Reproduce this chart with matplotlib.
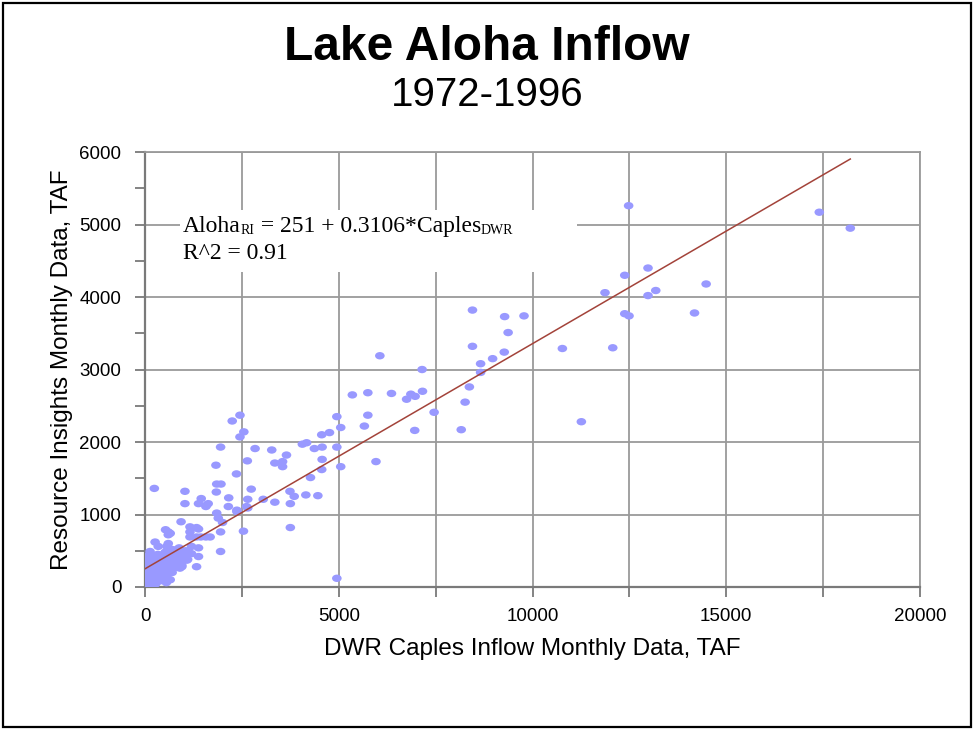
import numpy as np
import matplotlib.pyplot as plt
from matplotlib.path import Path
from matplotlib.patches import Rectangle
from matplotlib.ticker import MultipleLocator

plt.rcParams['font.family'] = 'Liberation Sans'

# monthly inflow, TAF: DWR Caples (x) vs Resource Insights Lake Aloha (y)
caples = [
    12480, 17400, 18200, 12980, 12380, 11870, 13180, 12980, 14480, 12380, 12490, 14180, 12070,
    8450, 9280, 9780, 9370, 8450, 9270, 8970, 8660, 8660, 8370, 8260, 8160, 10770, 11260,
    6060, 7150, 5350, 5750, 6360, 6750, 6860, 6970, 7160, 7460, 6960, 5750, 4950, 5660, 5050,
    4760, 4560, 4060, 4170, 4370, 4570, 4950, 3270, 3650, 3350, 3550, 3550, 4570, 4560, 5050,
    5960, 4270, 3050, 3350, 3740, 3850, 3750, 4150, 4460, 3750, 4950,
    2450, 2250, 2550, 2450, 1950, 2840, 2640, 1830, 2360, 1850, 1960, 240, 1030, 1840, 2740,
    2160, 2650, 1450, 1030, 1380, 1630, 1570, 1850, 2150, 2370, 2620, 930, 1330, 1890, 2000,
    1950, 2540, 1950, 600, 600, 1160, 1160, 1380, 1330, 1570, 1380, 1380, 1330, 1080, 950,
    1200, 950, 770, 600, 340, 260, 130, 530, 650, 1160, 1440, 1680, 950, 560, 1590, 2370, 2650,
    0, 10, 20, 5, 30, 15, 40, 10, 25, 50, 60, 80, 70, 90, 100, 80, 110, 95, 120, 130, 140,
    150, 160, 145, 170, 180, 165, 190, 200, 210, 230, 220, 250, 240, 260, 280, 270, 290, 300,
    320, 310, 340, 350, 330, 360, 380, 400, 390, 420, 430, 410, 450, 470, 490, 510, 500, 530,
    520, 560, 580, 600, 620, 640, 660, 680, 700, 720, 740, 760, 780, 800, 820, 850, 880, 900,
    920, 1000, 1050, 1100, 1200, 550, 650,
]
aloha = [
    5260, 5170, 4950, 4400, 4300, 4060, 4090, 4020, 4180, 3770, 3740, 3780, 3300,
    3820, 3730, 3740, 3510, 3320, 3240, 3150, 3080, 2960, 2760, 2550, 2170, 3290, 2280,
    3190, 3000, 2650, 2680, 2670, 2590, 2660, 2630, 2700, 2410, 2160, 2370, 2350, 2220, 2200,
    2130, 2100, 1970, 1990, 1910, 1930, 1930, 1890, 1820, 1710, 1730, 1660, 1760, 1620, 1660,
    1730, 1510, 1210, 1170, 1320, 1250, 1150, 1270, 1260, 820, 120,
    2370, 2290, 2140, 2070, 1930, 1910, 1740, 1680, 1560, 1420, 1420, 1360, 1320, 1310, 1350,
    1230, 1210, 1220, 1150, 1150, 1150, 1110, 1020, 1110, 1040, 1110, 900, 820, 950, 890,
    760, 770, 490, 760, 720, 760, 690, 800, 690, 690, 540, 420, 280, 370, 300,
    560, 460, 510, 600, 560, 620, 490, 790, 740, 830, 690, 690, 280, 560, 1130, 1060, 1090,
    20, 60, 110, 150, 190, 240, 280, 320, 370, 420, 30, 90, 140, 200, 250, 300, 350, 400, 450,
    10, 70, 130, 180, 230, 280, 330, 380, 430, 50, 100, 160, 210, 260, 310, 360, 410, 40, 120,
    190, 240, 290, 330, 390, 450, 80, 150, 210, 270, 320, 380, 440, 110, 180, 240, 300, 360,
    420, 480, 150, 230, 280, 340, 400, 460, 520, 200, 300, 370, 430, 270, 340, 400, 470, 540,
    260, 350, 420, 500, 380, 460, 60, 100,
]

intercept = 251
slope = 0.3106
r_squared = 0.91

fig = plt.figure(figsize=(9.74, 7.31), dpi=100)
ax = fig.add_axes([0.1489, 0.197, 0.7957, 0.595])

grid_col = '#9a9a9a'
axis_col = '#7a7a7a'

# oval markers, a bit wider than tall
circle = Path.unit_circle()
oval = Path(circle.vertices * [1.3, 1.0], circle.codes)
ax.scatter(caples, aloha, marker=oval, s=48, c='#9999ff', edgecolors='none', zorder=3)

# linear trendline
fit_x = np.array([0, max(caples)])
fit_y = intercept + slope * fit_x
ax.plot(fit_x, fit_y, color='#a3433a', lw=1.1, zorder=4)

ax.set_xlim(0, 20000)
ax.set_ylim(0, 6000)
ax.xaxis.set_major_locator(MultipleLocator(5000))
ax.xaxis.set_minor_locator(MultipleLocator(2500))
ax.yaxis.set_major_locator(MultipleLocator(1000))
ax.yaxis.set_minor_locator(MultipleLocator(500))
ax.grid(which='major', color=grid_col, lw=1.3)
ax.grid(which='minor', axis='x', color=grid_col, lw=1.3)

for side in ['left', 'bottom']:
    ax.spines[side].set_color(axis_col)
    ax.spines[side].set_linewidth(1.6)
for side in ['top', 'right']:
    ax.spines[side].set_color(grid_col)
    ax.spines[side].set_linewidth(1.3)

ax.tick_params(which='both', direction='out', length=7, width=1.3, color=axis_col,
               labelsize=13.5, labelcolor='black')
ax.tick_params(axis='x', pad=8)
ax.tick_params(axis='y', pad=10)

ax.set_xlabel('DWR Caples Inflow Monthly Data, TAF', fontsize=17.5)
ax.set_ylabel('Resource Insights Monthly Data, TAF', fontsize=17.5)
ax.xaxis.set_label_coords(0.5, -0.1165)
ax.yaxis.set_label_coords(-0.093, 0.5)

# white panel behind the equation
ax.add_patch(Rectangle((0.045, 0.724), 0.512, 0.143, transform=ax.transAxes,
                       facecolor='white', edgecolor='none', zorder=2))

# equation pieces chained left to right, subscripts in a smaller size
serif = 'Liberation Serif'
eq_size = 17
sub_size = 10
t = ax.text(0.049, 0.816, 'Aloha', transform=ax.transAxes, fontsize=eq_size,
            family=serif, va='baseline', zorder=5)
pieces = [('RI', sub_size), (' = %d + %.4f*Caples' % (intercept, slope), eq_size),
          ('DWR', sub_size)]
for txt, size in pieces:
    t = ax.annotate(txt, xy=(1, 0), xycoords=t, va='bottom', ha='left',
                    fontsize=size, family=serif, zorder=5)
ax.text(0.049, 0.754, 'R^2 = %.2f' % r_squared, transform=ax.transAxes,
        fontsize=eq_size, family=serif, va='baseline', zorder=5)

fig.text(0.5, 1 - 60 / 731, 'Lake Aloha Inflow', ha='center', va='baseline',
         fontsize=34.5, weight='bold')
fig.text(0.5, 1 - 106 / 731, '1972-1996', ha='center', va='baseline', fontsize=29)

# outer frame
fig.patches.append(Rectangle((0.003, 0.0055), 0.994, 0.9905, transform=fig.transFigure,
                             fill=False, edgecolor='black', lw=1.6))

fig.savefig('out.png', dpi=100, facecolor='white')
